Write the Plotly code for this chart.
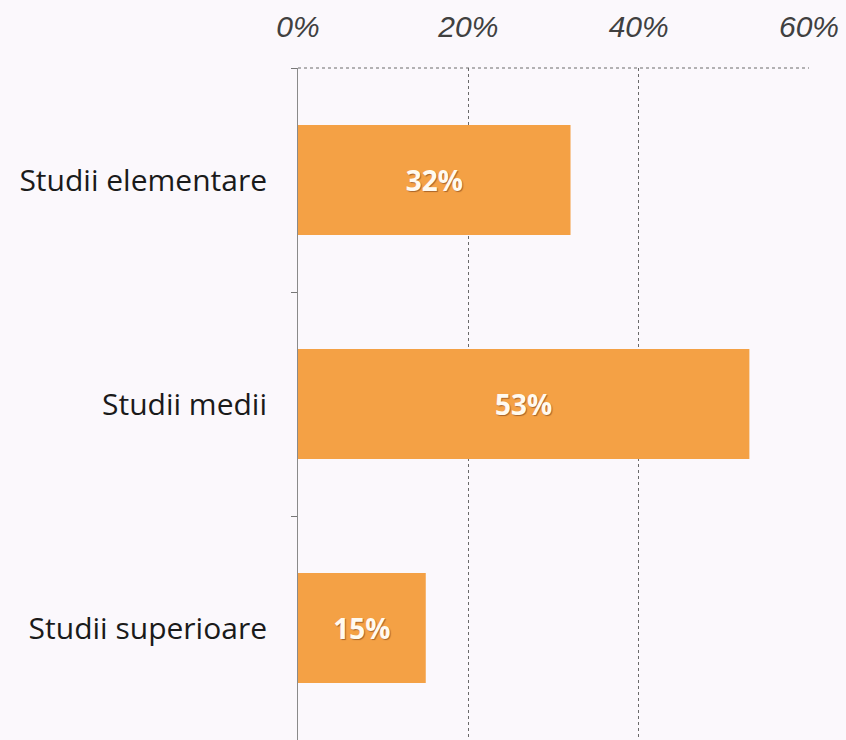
import plotly.graph_objects as go

# Education level distribution
categories = ["Studii elementare", "Studii medii", "Studii superioare"]
shares = [32, 53, 15]
tick_values = [0, 20, 40, 60]
tick_labels = ["0%", "20%", "40%", "60%"]

bar_color = "#f4a145"
bg_color = "#fbf8fc"

fig = go.Figure(
    go.Bar(
        x=shares,
        y=categories,
        orientation="h",
        width=0.49,
        marker=dict(color=bar_color, line=dict(width=0)),
        text=[f"{v}%" for v in shares],
        textposition="inside",
        insidetextanchor="middle",
        textfont=dict(family="Open Sans", size=28, color="#fffaf0", weight="bold",
                      shadow="1px 1px 1px #a8642a"),
        hoverinfo="skip",
    )
)

fig.update_layout(
    width=846,
    height=740,
    margin=dict(l=298, r=37, t=68, b=0),
    paper_bgcolor=bg_color,
    plot_bgcolor=bg_color,
    showlegend=False,
    bargap=0.51,
    xaxis=dict(
        side="top",
        range=[0, 60],
        tickvals=tick_values,
        ticktext=tick_labels,
        tickfont=dict(family="Liberation Sans", size=30, color="#404040", style="italic"),
        ticks="",
        ticklabelstandoff=24,
        showgrid=True,
        gridcolor="#6a6a6a",
        griddash="dot",
        gridwidth=1,
        showline=False,
        zeroline=False,
        fixedrange=True,
    ),
    yaxis=dict(
        categoryorder="array",
        categoryarray=categories,
        autorange="reversed",
        tickson="boundaries",
        ticks="outside",
        ticklen=6,
        tickcolor="#777777",
        tickfont=dict(family="Open Sans", size=30, color="#1a1a1a"),
        ticklabelstandoff=24,
        showline=True,
        linecolor="#8a8a8a",
        linewidth=1,
        showgrid=False,
        zeroline=False,
        fixedrange=True,
    ),
)

# dotted line along the top of the plot area
fig.add_shape(
    type="line", xref="x", yref="paper",
    x0=0, x1=60, y0=1, y1=1,
    line=dict(color="#6a6a6a", width=1, dash="dot"),
)

fig.write_html("out.html")
